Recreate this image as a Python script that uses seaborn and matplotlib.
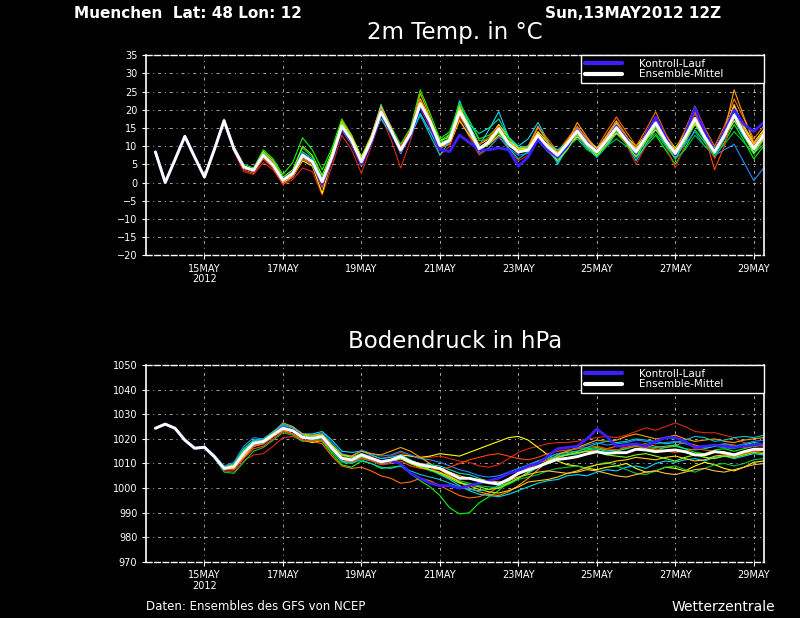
#!/usr/bin/env python3
"""GFS ensemble plume for Muenchen: 2m temperature and surface pressure."""

import matplotlib

matplotlib.use("Agg")

import matplotlib.pyplot as plt
import seaborn as sns

# forecast hours after Sun 13MAY2012 12Z, 6-hourly
HOURS = list(range(6, 379, 6))

TICK_HOURS = [36, 84, 132, 180, 228, 276, 324, 372]
TICK_LABELS = ["15MAY\n2012", "17MAY", "19MAY", "21MAY", "23MAY", "25MAY", "27MAY", "29MAY"]

# ---- 2m temperature (degC) ----
T_MEAN = [
    8.4, 0.0, 6.3, 12.7, 7.0, 1.5, 9.0, 17.0,
    9.3, 4.3, 3.4, 7.5, 4.8, 0.6, 2.5, 7.5, 5.7, 0.2, 7.0,
    15.5, 11.6, 5.7, 11.6, 19.4, 14.4, 8.9, 13.5, 21.7, 16.7, 10.2, 11.6, 19.5,
    14.8, 9.3, 11.2, 14.8, 10.7, 8.4, 8.9, 13.0, 9.8, 7.5, 10.7,
    14.2, 10.7, 8.4, 11.6, 15.1, 11.6, 8.4, 12.5, 16.4, 11.6, 8.0, 12.5, 17.6, 12.5, 8.4, 13.0, 18.5, 13.5, 9.3, 13.0,
]
T_CONTROL = [
    8.4, 0.0, 6.3, 12.7, 7.0, 1.5, 9.0, 17.0,
    9.3, 4.3, 3.3, 7.5, 4.8, 0.5, 2.5, 7.5, 5.5, -0.5, 6.5,
    15.0, 11.0, 5.0, 11.0, 19.0, 14.0, 8.5, 13.0, 21.0, 16.0, 9.0, 8.5, 13.0,
    11.0, 9.0, 9.0, 9.5, 9.0, 4.5, 7.0, 12.0, 9.0, 7.0, 10.0,
    14.5, 11.0, 8.5, 11.5, 15.5, 12.0, 8.0, 13.0, 18.0, 12.5, 7.5, 13.0, 20.5, 14.0, 8.5, 14.0, 20.0, 16.0, 14.0, 16.5,
]
T_M01 = [
    8.4, 0.1, 6.4, 12.8, 7.1, 1.6, 9.2, 17.2,
    10.0, 5.0, 4.0, 9.0, 6.5, 2.2, 5.5, 12.3, 9.0, 3.5, 9.5,
    17.5, 13.0, 7.0, 12.5, 21.0, 15.5, 10.5, 15.0, 25.5, 19.0, 12.0, 14.0, 21.5,
    17.0, 12.0, 13.0, 15.5, 12.0, 9.5, 9.0, 12.5, 10.0, 7.0, 9.5,
    13.0, 9.5, 7.0, 10.0, 13.5, 10.5, 7.0, 10.0, 13.0, 9.0, 5.0, 9.5, 14.5, 11.0, 7.0, 11.0, 16.0, 11.5, 6.5, 10.0,
]
T_M02 = [
    8.3, -0.1, 6.2, 12.6, 6.9, 1.3, 8.8, 16.6,
    8.5, 3.0, 2.2, 5.5, 3.5, -0.5, 0.8, 4.0, 3.0, -3.5, 4.5,
    13.0, 9.0, 2.5, 10.0, 18.0, 12.0, 4.0, 11.5, 20.5, 15.0, 7.5, 10.0, 17.5,
    12.5, 7.5, 9.5, 13.0, 9.0, 6.0, 7.5, 12.0, 8.5, 6.0, 9.5,
    13.5, 9.5, 7.5, 10.5, 14.0, 10.5, 5.0, 10.0, 15.0, 10.0, 4.0, 10.5, 17.0, 12.0, 6.5, 12.0, 19.0, 13.5, 8.0, 11.5,
]
T_M03 = [
    8.5, 0.1, 6.4, 12.8, 7.1, 1.7, 9.3, 17.4,
    9.8, 4.5, 3.0, 7.0, 4.0, 0.0, 1.5, 6.0, 4.5, -3.0, 6.5,
    14.5, 10.5, 4.5, 11.0, 20.5, 15.0, 9.5, 14.5, 23.0, 17.5, 11.5, 13.0, 20.5,
    15.5, 10.5, 12.0, 16.0, 12.5, 9.5, 10.0, 14.0, 11.0, 8.5, 11.5,
    15.0, 12.0, 9.5, 12.5, 16.0, 12.5, 10.0, 13.0, 17.5, 13.0, 9.5, 13.5, 19.5, 14.0, 9.0, 14.5, 21.0, 15.5, 11.0, 14.5,
]
T_M04 = [
    8.4, 0.0, 6.3, 12.7, 7.0, 1.4, 9.0, 16.9,
    9.0, 4.0, 3.0, 7.5, 5.0, 0.5, 2.0, 7.0, 5.5, 0.5, 8.0,
    16.5, 12.5, 6.0, 12.5, 21.5, 15.0, 9.0, 12.5, 19.0, 14.0, 9.0, 12.5, 22.5,
    16.0, 10.0, 14.5, 19.5, 12.5, 10.0, 12.0, 16.5, 11.5, 5.0, 9.5,
    12.5, 9.5, 7.0, 10.0, 14.0, 11.0, 6.0, 10.5, 14.5, 10.5, 6.5, 11.0, 16.0, 11.5, 7.5, 12.0, 17.0, 12.5, 8.5, 12.0,
]
T_M05 = [
    8.4, 0.0, 6.3, 12.7, 7.0, 1.5, 9.0, 17.0,
    9.5, 4.5, 3.5, 8.5, 5.5, 0.5, 2.5, 8.0, 6.0, 0.0, 7.5,
    16.0, 12.0, 6.0, 12.0, 20.0, 14.5, 9.0, 14.0, 22.5, 17.0, 10.0, 11.0, 19.0,
    14.0, 8.5, 11.0, 14.5, 10.5, 8.0, 10.0, 15.0, 12.0, 8.5, 12.0,
    15.5, 12.0, 9.5, 14.0, 18.0, 14.0, 10.0, 14.5, 19.5, 13.5, 9.0, 14.5, 21.0, 15.0, 10.0, 15.5, 23.0, 17.5, 12.0, 15.5,
]
T_M06 = [
    8.4, 0.0, 6.3, 12.7, 7.0, 1.5, 9.0, 17.0,
    9.0, 4.5, 3.5, 7.0, 4.5, 1.0, 3.0, 8.0, 6.0, 1.0, 7.5,
    15.5, 11.0, 5.5, 11.0, 18.5, 13.5, 8.0, 13.0, 21.0, 16.0, 9.5, 11.0, 18.5,
    13.5, 8.0, 9.5, 12.5, 9.5, 7.5, 8.0, 11.5, 8.5, 6.5, 9.5,
    13.0, 9.5, 8.0, 11.0, 14.0, 11.0, 8.0, 11.5, 15.0, 11.0, 7.5, 10.5, 14.0, 10.0, 7.5, 9.0, 10.5, 5.5, 0.5, 4.0,
]
T_M07 = [
    8.4, 0.0, 6.3, 12.7, 7.0, 1.5, 9.0, 17.0,
    9.5, 4.5, 3.5, 8.0, 5.0, 1.0, 3.0, 9.5, 7.0, 1.5, 7.0,
    15.0, 11.5, 6.0, 12.0, 19.5, 14.5, 9.5, 13.5, 21.0, 16.0, 11.0, 13.5, 22.0,
    17.0, 11.5, 12.0, 13.5, 10.0, 8.5, 9.0, 12.0, 9.5, 7.5, 10.0,
    12.0, 9.0, 7.5, 10.0, 12.0, 10.0, 8.0, 11.0, 13.5, 10.0, 6.5, 9.0, 13.0, 10.0, 7.5, 10.5, 14.0, 11.0, 8.0, 10.5,
]
T_M08 = [
    8.4, 0.0, 6.3, 12.7, 7.0, 1.5, 9.0, 17.0,
    9.0, 4.0, 3.5, 8.0, 5.0, 0.5, 2.0, 7.0, 5.0, -1.0, 6.5,
    17.0, 13.0, 7.0, 13.0, 21.0, 15.5, 8.5, 14.0, 24.5, 18.0, 10.5, 12.0, 19.0,
    14.0, 9.0, 11.0, 15.0, 11.5, 9.0, 10.0, 15.5, 11.0, 8.0, 11.0,
    16.5, 12.5, 9.0, 13.0, 17.0, 13.0, 8.5, 13.5, 18.0, 12.5, 7.5, 13.0, 19.5, 13.5, 8.0, 14.0, 25.5, 18.0, 11.0, 13.5,
]
T_M09 = [
    8.4, 0.0, 6.3, 12.7, 7.0, 1.5, 9.0, 17.0,
    9.0, 4.0, 3.0, 7.0, 4.5, 0.5, 2.5, 7.0, 5.5, 0.5, 6.5,
    14.5, 11.0, 6.5, 11.5, 17.5, 13.5, 9.0, 13.5, 20.5, 16.5, 11.0, 12.0, 18.0,
    16.0, 13.5, 15.0, 17.5, 12.5, 9.5, 10.0, 12.5, 10.5, 9.0, 11.0,
    13.0, 11.0, 9.5, 12.0, 15.0, 12.5, 9.0, 12.0, 15.5, 12.0, 9.0, 12.5, 17.0, 12.5, 9.5, 13.0, 18.0, 13.0, 10.0, 13.0,
]
T_M10 = [
    8.4, 0.0, 6.3, 12.7, 7.0, 1.5, 9.0, 17.0,
    9.0, 4.0, 3.5, 7.0, 4.5, 0.5, 2.0, 6.5, 5.0, 0.0, 6.5,
    15.0, 11.0, 5.5, 11.5, 19.5, 14.5, 9.5, 14.0, 22.0, 17.0, 10.0, 10.5, 17.0,
    13.0, 9.5, 10.5, 13.0, 11.5, 9.5, 9.0, 12.0, 10.5, 8.0, 10.0,
    12.5, 11.0, 9.5, 11.5, 13.5, 11.5, 9.5, 12.0, 14.5, 11.5, 9.0, 12.0, 16.0, 13.0, 9.0, 12.5, 17.0, 13.5, 10.0, 12.5,
]
T_M11 = [
    8.4, 0.0, 6.3, 12.7, 7.0, 1.5, 9.0, 17.0,
    9.0, 3.5, 2.5, 6.5, 4.0, -0.5, 1.5, 6.5, 5.0, -1.5, 6.0,
    16.0, 12.0, 6.5, 12.5, 20.0, 15.0, 10.0, 14.5, 22.5, 17.0, 9.5, 10.5, 18.0,
    14.5, 10.5, 12.5, 15.5, 11.0, 8.0, 9.5, 13.5, 10.0, 7.0, 11.0,
    15.0, 11.5, 8.0, 12.0, 16.5, 12.5, 7.5, 13.0, 17.5, 12.0, 8.0, 13.5, 19.0, 13.0, 3.5, 10.0, 20.0, 14.5, 10.5, 14.0,
]
T_M12 = [
    8.4, 0.0, 6.3, 12.7, 7.0, 1.5, 9.0, 17.0,
    9.5, 4.5, 3.5, 8.0, 5.0, 1.0, 3.0, 8.5, 6.5, 1.0, 7.5,
    16.0, 12.0, 6.0, 12.0, 20.0, 15.0, 9.5, 13.0, 18.5, 13.0, 7.5, 11.5, 19.5,
    14.5, 9.0, 11.0, 14.0, 9.5, 6.5, 8.5, 13.5, 9.0, 5.5, 10.0,
    14.0, 10.0, 7.0, 11.5, 16.0, 11.5, 7.5, 12.0, 16.0, 11.0, 7.0, 12.0, 18.0, 12.0, 8.0, 13.5, 19.5, 14.0, 9.0, 13.5,
]
T_M13 = [
    8.4, 0.0, 6.3, 12.7, 7.0, 1.5, 9.0, 17.0,
    9.5, 4.5, 3.5, 8.5, 6.0, 1.5, 3.5, 10.0, 7.5, 2.0, 8.5,
    16.5, 12.5, 7.0, 12.5, 19.5, 14.0, 8.0, 13.0, 22.0, 17.0, 11.5, 12.5, 21.0,
    15.5, 9.0, 10.5, 14.0, 10.5, 9.0, 9.5, 13.5, 9.5, 6.0, 9.0,
    13.5, 10.0, 7.5, 10.5, 14.5, 11.0, 7.0, 11.5, 15.5, 11.0, 7.0, 11.5, 16.5, 12.0, 9.0, 13.5, 19.0, 13.0, 8.0, 12.0,
]
T_M14 = [
    8.4, 0.0, 6.3, 12.7, 7.0, 1.5, 9.0, 17.0,
    9.0, 4.0, 3.0, 7.5, 4.5, 0.0, 2.0, 7.5, 5.5, -0.5, 6.5,
    15.0, 11.0, 5.0, 11.0, 19.0, 14.5, 9.0, 13.0, 21.5, 16.5, 10.5, 12.0, 20.5,
    15.0, 9.5, 11.5, 14.5, 10.5, 8.5, 9.5, 13.5, 10.0, 8.0, 11.0,
    15.0, 11.5, 9.0, 12.5, 16.5, 12.0, 9.0, 13.5, 18.0, 12.5, 8.5, 13.5, 20.0, 14.0, 9.0, 14.0, 21.5, 15.0, 10.5, 14.0,
]

# ---- surface pressure (hPa) ----
P_MEAN = [
    1024.3, 1026.0, 1024.3, 1019.5, 1016.2, 1016.6, 1012.8, 1008.0,
    1008.7, 1014.1, 1018.2, 1018.9, 1021.6, 1024.3, 1023.3, 1020.6, 1020.2, 1020.9, 1016.2,
    1012.1, 1011.4, 1013.5, 1012.1, 1010.7, 1011.4, 1012.8, 1010.7, 1009.4, 1008.7, 1008.0, 1006.0, 1004.0,
    1004.0, 1003.0, 1002.2, 1001.7, 1003.6, 1006.0, 1007.4, 1008.7, 1010.3, 1011.7, 1012.1,
    1012.8, 1013.9, 1014.8, 1014.1, 1014.4, 1014.4, 1015.8, 1015.5, 1014.8, 1015.2,
    1015.5, 1014.8, 1013.5, 1013.5, 1014.8, 1014.4, 1013.5, 1014.8, 1015.8, 1015.8,
]
P_CONTROL = [
    1024.3, 1026.0, 1024.3, 1019.5, 1016.2, 1016.6, 1012.8, 1008.0,
    1008.7, 1014.0, 1018.0, 1018.8, 1021.5, 1024.5, 1023.5, 1020.8, 1020.2, 1020.8, 1016.0,
    1012.0, 1011.5, 1013.5, 1012.0, 1010.5, 1011.0, 1010.0, 1006.0, 1004.0, 1002.0, 1001.0, 1001.0, 1000.0,
    1001.0, 1002.0, 1003.0, 1004.0, 1006.0, 1007.0, 1009.0, 1010.0, 1013.0, 1016.0, 1016.5,
    1017.0, 1020.0, 1024.0, 1021.0, 1017.0, 1017.5, 1018.0, 1017.0, 1019.0, 1020.5,
    1020.5, 1019.0, 1016.5, 1017.0, 1017.5, 1017.0, 1016.5, 1017.0, 1017.5, 1018.0,
]
P_M01 = [
    1024.3, 1026.0, 1024.4, 1019.6, 1016.3, 1016.8, 1013.2, 1008.5,
    1010.0, 1016.0, 1019.5, 1019.5, 1022.0, 1025.0, 1023.5, 1020.5, 1019.5, 1019.0, 1014.0,
    1009.5, 1008.5, 1011.0, 1010.0, 1008.0, 1008.5, 1009.0, 1006.0, 1003.0, 1000.5, 997.0, 992.0, 989.5,
    990.0, 994.0, 996.5, 999.0, 1002.5, 1006.5, 1009.5, 1011.0, 1012.5, 1014.0, 1014.5,
    1015.0, 1016.0, 1016.5, 1015.5, 1015.0, 1016.0, 1017.0, 1016.0, 1015.5, 1016.5,
    1017.0, 1016.0, 1014.5, 1014.0, 1015.5, 1016.0, 1015.0, 1016.0, 1017.0, 1017.5,
]
P_M02 = [
    1024.3, 1026.0, 1024.2, 1019.4, 1016.0, 1016.4, 1012.5, 1007.0,
    1006.5, 1011.0, 1013.5, 1014.0, 1017.0, 1020.5, 1021.0, 1019.0, 1019.5, 1020.5, 1016.5,
    1013.0, 1012.5, 1014.0, 1013.0, 1012.0, 1013.0, 1014.5, 1013.0, 1012.0, 1012.5, 1013.0, 1012.0, 1011.0,
    1010.5, 1009.0, 1008.5, 1009.5, 1012.0, 1014.5, 1016.0, 1017.0, 1018.0, 1018.5, 1018.5,
    1019.0, 1020.0, 1020.5, 1021.0, 1020.5, 1021.5, 1023.0, 1024.5, 1023.5, 1025.0,
    1026.5, 1025.0, 1023.0, 1022.5, 1022.5, 1021.5, 1020.5, 1018.5, 1017.5, 1017.0,
]
P_M03 = [
    1024.3, 1026.0, 1024.3, 1019.5, 1016.2, 1016.6, 1012.8, 1007.5,
    1007.5, 1012.5, 1017.0, 1018.0, 1021.0, 1023.5, 1022.0, 1019.5, 1018.5, 1019.5, 1015.0,
    1011.0, 1010.5, 1012.5, 1011.5, 1010.5, 1011.5, 1013.5, 1013.0, 1012.5, 1013.0, 1014.0, 1013.5, 1013.0,
    1014.5, 1016.0, 1017.5, 1019.0, 1020.5, 1021.0, 1019.5, 1016.5, 1013.5, 1011.0, 1009.5,
    1009.0, 1008.0, 1007.5, 1008.5, 1009.0, 1010.0, 1008.0, 1006.5, 1007.0, 1008.5,
    1008.0, 1007.0, 1009.0, 1010.5, 1009.5, 1008.0, 1007.0, 1008.5, 1010.5, 1011.0,
]
P_M04 = [
    1024.3, 1026.0, 1024.3, 1019.5, 1016.3, 1016.7, 1013.0, 1008.3,
    1009.0, 1015.0, 1019.0, 1019.5, 1022.5, 1025.5, 1024.5, 1022.0, 1022.0, 1023.0, 1019.5,
    1015.0, 1014.5, 1015.0, 1013.5, 1012.0, 1012.5, 1013.5, 1011.5, 1009.5, 1007.5, 1005.5, 1003.5, 1001.0,
    999.0, 997.5, 997.0, 996.5, 997.5, 999.0, 1000.5, 1002.0, 1003.0, 1003.5, 1005.0,
    1005.5, 1005.0, 1006.5, 1007.5, 1007.0, 1008.5, 1009.0, 1008.0, 1010.0, 1011.0,
    1010.5, 1011.5, 1012.0, 1011.0, 1012.5, 1013.0, 1012.0, 1013.0, 1014.0, 1013.5,
]
P_M05 = [
    1024.3, 1026.0, 1024.3, 1019.5, 1016.2, 1016.5, 1012.6, 1007.8,
    1008.0, 1013.0, 1017.0, 1018.0, 1021.0, 1023.5, 1022.0, 1019.5, 1019.0, 1018.0, 1013.0,
    1009.0, 1008.0, 1008.5, 1007.0, 1005.0, 1004.0, 1002.0, 1002.5, 1004.0, 1003.0, 1001.0, 999.0, 997.0,
    996.0, 996.5, 998.0, 1000.5, 1003.0, 1005.5, 1008.0, 1010.0, 1011.5, 1013.0, 1013.5,
    1014.0, 1015.0, 1015.5, 1016.0, 1017.0, 1016.5, 1017.5, 1018.0, 1017.0, 1016.5,
    1017.5, 1018.5, 1017.5, 1016.5, 1017.0, 1018.0, 1017.5, 1016.5, 1017.0, 1017.5,
]
P_M06 = [
    1024.3, 1026.0, 1024.5, 1019.8, 1016.5, 1017.0, 1013.5, 1009.0,
    1010.5, 1017.0, 1020.5, 1020.0, 1022.5, 1025.5, 1024.5, 1022.0, 1021.5, 1022.5, 1018.5,
    1014.0, 1013.0, 1015.5, 1014.0, 1013.0, 1013.5, 1015.0, 1013.5, 1012.0, 1011.5, 1010.5, 1009.0, 1007.5,
    1006.5, 1005.0, 1004.5, 1005.0, 1006.5, 1008.0, 1009.5, 1011.0, 1012.5, 1014.0, 1015.0,
    1016.0, 1017.5, 1018.5, 1017.5, 1018.0, 1018.5, 1019.5, 1019.0, 1018.0, 1018.5,
    1019.0, 1018.0, 1017.0, 1016.5, 1017.5, 1018.0, 1017.0, 1018.0, 1019.0, 1019.5,
]
P_M07 = [
    1024.3, 1026.0, 1024.2, 1019.3, 1016.0, 1016.2, 1012.3, 1006.5,
    1006.0, 1010.5, 1015.0, 1016.5, 1019.5, 1022.5, 1021.5, 1019.0, 1019.5, 1020.0, 1015.0,
    1010.5, 1010.0, 1012.5, 1011.5, 1010.0, 1010.5, 1012.0, 1010.0, 1008.5, 1007.0, 1006.0, 1004.5, 1003.0,
    1002.0, 1001.0, 1000.5, 1000.0, 1001.5, 1003.5, 1004.5, 1005.5, 1007.0, 1008.0, 1008.5,
    1009.0, 1008.0, 1009.5, 1010.5, 1009.0, 1007.5, 1006.0, 1005.5, 1007.0, 1008.5,
    1009.0, 1007.5, 1006.5, 1008.0, 1009.5, 1010.0, 1009.0, 1010.0, 1011.5, 1012.0,
]
P_M08 = [
    1024.3, 1026.0, 1024.3, 1019.5, 1016.3, 1016.8, 1013.0, 1008.2,
    1009.0, 1014.5, 1018.5, 1019.5, 1022.5, 1026.5, 1025.0, 1022.0, 1021.5, 1022.0, 1017.5,
    1013.5, 1013.0, 1015.0, 1014.0, 1013.5, 1015.0, 1016.5, 1015.0, 1012.5, 1010.0, 1007.5, 1005.0, 1002.5,
    1000.0, 998.5, 997.5, 997.0, 998.5, 1001.0, 1004.0, 1007.5, 1011.0, 1013.5, 1015.0,
    1016.5, 1018.0, 1019.5, 1019.0, 1019.5, 1021.0, 1022.0, 1021.0, 1020.0, 1020.5,
    1021.5, 1020.0, 1019.0, 1019.5, 1020.0, 1019.0, 1018.5, 1019.5, 1020.0, 1020.5,
]
P_M09 = [
    1024.3, 1026.0, 1024.3, 1019.5, 1016.2, 1016.6, 1012.8, 1008.0,
    1008.5, 1014.0, 1018.5, 1019.0, 1021.5, 1024.0, 1023.0, 1020.5, 1020.5, 1021.5, 1017.0,
    1012.5, 1012.0, 1014.0, 1012.5, 1011.0, 1011.5, 1013.0, 1011.0, 1010.0, 1009.5, 1009.0, 1007.5, 1006.0,
    1005.5, 1004.0, 1002.5, 1001.0, 1002.0, 1004.0, 1006.0, 1008.5, 1010.5, 1012.5, 1013.5,
    1014.0, 1015.5, 1016.0, 1015.0, 1015.5, 1016.0, 1017.5, 1017.0, 1016.5, 1017.0,
    1017.5, 1016.0, 1015.5, 1016.0, 1017.0, 1016.5, 1016.0, 1017.5, 1018.5, 1018.0,
]
P_M10 = [
    1024.3, 1026.0, 1024.3, 1019.5, 1016.1, 1016.5, 1012.7, 1007.8,
    1008.0, 1013.0, 1017.5, 1018.5, 1021.0, 1024.0, 1023.0, 1021.0, 1021.0, 1021.5, 1017.0,
    1012.5, 1011.5, 1013.0, 1011.5, 1010.0, 1010.5, 1012.0, 1010.0, 1008.5, 1007.5, 1006.5, 1004.5, 1002.5,
    1001.0, 999.5, 998.5, 998.0, 999.0, 1000.5, 1002.5, 1003.0, 1003.5, 1004.5, 1006.0,
    1007.0, 1008.5, 1009.5, 1010.0, 1011.0, 1011.5, 1012.5, 1012.0, 1011.5, 1012.5,
    1013.0, 1012.0, 1011.0, 1011.5, 1013.0, 1013.5, 1013.0, 1014.0, 1015.0, 1015.5,
]
P_M11 = [
    1024.3, 1026.0, 1024.3, 1019.4, 1016.1, 1016.5, 1012.6, 1007.6,
    1007.5, 1012.0, 1016.0, 1017.0, 1020.0, 1023.0, 1022.0, 1019.5, 1019.0, 1019.5, 1015.5,
    1011.5, 1010.5, 1012.0, 1011.0, 1009.5, 1010.0, 1011.0, 1009.0, 1008.0, 1007.5, 1007.5, 1008.5, 1010.0,
    1011.5, 1012.5, 1013.5, 1014.0, 1013.0, 1012.0, 1011.5, 1012.5, 1014.0, 1015.0, 1015.5,
    1016.0, 1016.5, 1017.0, 1016.0, 1015.5, 1016.5, 1017.0, 1016.5, 1016.0, 1015.0,
    1014.5, 1015.0, 1016.0, 1015.5, 1015.0, 1014.0, 1013.0, 1014.0, 1015.0, 1014.5,
]
P_M12 = [
    1024.3, 1026.0, 1024.4, 1019.6, 1016.3, 1016.7, 1013.0, 1008.2,
    1009.5, 1015.5, 1019.5, 1020.0, 1023.0, 1026.0, 1024.5, 1021.5, 1021.0, 1021.0, 1016.0,
    1011.0, 1010.0, 1011.5, 1010.0, 1008.5, 1008.0, 1009.0, 1007.0, 1005.5, 1004.5, 1003.5, 1002.0, 1000.5,
    999.5, 999.0, 999.5, 1001.0, 1003.5, 1006.0, 1008.5, 1010.5, 1012.0, 1013.0, 1014.0,
    1015.0, 1016.5, 1018.0, 1019.0, 1018.5, 1019.0, 1020.0, 1019.5, 1019.0, 1018.0,
    1018.5, 1019.5, 1021.0, 1020.5, 1019.0, 1019.5, 1020.5, 1021.0, 1020.5, 1021.5,
]
P_M13 = [
    1024.3, 1026.0, 1024.3, 1019.5, 1016.2, 1016.6, 1012.9, 1008.4,
    1009.5, 1015.0, 1018.5, 1019.0, 1022.0, 1024.5, 1023.5, 1021.5, 1021.0, 1021.5, 1017.5,
    1013.5, 1012.5, 1014.0, 1012.0, 1010.5, 1011.0, 1012.0, 1010.0, 1008.5, 1007.5, 1006.0, 1004.0, 1002.0,
    1001.5, 1000.5, 999.5, 1000.0, 1002.0, 1004.0, 1006.5, 1009.0, 1011.0, 1012.5, 1013.5,
    1014.5, 1015.0, 1014.5, 1013.5, 1013.0, 1012.5, 1013.5, 1014.0, 1013.0, 1012.0,
    1011.0, 1012.5, 1013.5, 1012.5, 1012.0, 1013.0, 1012.5, 1013.5, 1014.5, 1014.0,
]
P_M14 = [
    1024.3, 1026.0, 1024.3, 1019.5, 1016.2, 1016.6, 1012.8, 1008.0,
    1008.5, 1013.5, 1018.0, 1018.5, 1021.5, 1024.0, 1023.0, 1020.5, 1020.0, 1021.0, 1016.5,
    1012.5, 1011.5, 1013.0, 1012.0, 1010.5, 1011.0, 1012.5, 1011.0, 1010.0, 1009.0, 1008.0, 1006.5, 1005.0,
    1004.0, 1003.5, 1003.0, 1002.5, 1003.0, 1004.5, 1005.5, 1006.5, 1007.0, 1006.5, 1006.0,
    1006.5, 1007.5, 1007.0, 1006.0, 1005.0, 1004.5, 1005.5, 1006.5, 1007.0, 1006.0,
    1005.5, 1006.5, 1007.5, 1008.0, 1007.0, 1006.5, 1007.5, 1008.5, 1009.5, 1010.0,
]

MEMBER_COLORS = [
    "#00ff00", "#dc2814", "#ffff00", "#00dcff", "#ff6e00",
    "#1e8cff", "#00c83c", "#ffa000", "#00e6aa", "#ffd200",
    "#ff4600", "#00c8c8", "#8cff00", "#ffbe46",
]
CONTROL_COLOR = "#3c1eff"
MEAN_COLOR = "#ffffff"
FONT = ["DejaVu Sans"]


def style_axes(ax, ylim, yticks):
    ax.set_facecolor("black")
    ax.set_xlim(0, 378)
    ax.set_ylim(*ylim)
    ax.set_yticks(yticks)
    ax.set_xticks(TICK_HOURS)
    ax.set_xticklabels(TICK_LABELS, linespacing=1.1)
    ax.set_axisbelow(True)
    ax.grid(True, color="#a8a8a8", linestyle=(0, (3, 4, 1, 4)), linewidth=0.7)
    ax.tick_params(colors="white", labelcolor="white", labelsize=7, length=3, width=0.8, pad=3)
    for side in ("left", "right"):
        ax.spines[side].set_color("white")
        ax.spines[side].set_linewidth(1.2)
    for side in ("top", "bottom"):
        ax.spines[side].set_color("white")
        ax.spines[side].set_linewidth(1.0)
        ax.spines[side].set_linestyle((0, (4, 2)))
    ax.set_xlabel("")
    ax.set_ylabel("")


def draw_panel(ax, members, control, mean):
    for values, color in zip(members, MEMBER_COLORS):
        assert len(values) == len(HOURS)
        sns.lineplot(x=HOURS, y=values, color=color, linewidth=0.8,
                     estimator=None, legend=False, ax=ax)
    sns.lineplot(x=HOURS, y=control, color=CONTROL_COLOR, linewidth=2.0,
                 estimator=None, label="Kontroll-Lauf", ax=ax)
    sns.lineplot(x=HOURS, y=mean, color=MEAN_COLOR, linewidth=2.1,
                 estimator=None, label="Ensemble-Mittel", ax=ax)

    leg = ax.legend(loc="upper left", bbox_to_anchor=(0.7046, 0.5, 0.2954, 0.5),
                    mode="expand", borderaxespad=0, fontsize=7.5, frameon=True,
                    fancybox=False, borderpad=0.35, labelspacing=0.05,
                    handlelength=3.6, handletextpad=1.6)
    frame = leg.get_frame()
    frame.set_facecolor("black")
    frame.set_edgecolor("white")
    frame.set_linewidth(1.0)
    frame.set_alpha(1.0)
    for text in leg.get_texts():
        text.set_color("white")
    for line in leg.get_lines():
        line.set_linewidth(3.0)


def main():
    sns.set_theme(style="ticks")
    plt.rcParams["font.family"] = FONT

    fig = plt.figure(figsize=(8, 6.18), dpi=100, facecolor="black")
    ax_t = fig.add_axes([0.182, 0.587, 0.7725, 0.3236])
    ax_p = fig.add_axes([0.182, 0.0906, 0.7725, 0.3188])

    temp_members = [T_M01, T_M02, T_M03, T_M04, T_M05, T_M06, T_M07,
                    T_M08, T_M09, T_M10, T_M11, T_M12, T_M13, T_M14]
    pres_members = [P_M01, P_M02, P_M03, P_M04, P_M05, P_M06, P_M07,
                    P_M08, P_M09, P_M10, P_M11, P_M12, P_M13, P_M14]

    draw_panel(ax_t, temp_members, T_CONTROL, T_MEAN)
    style_axes(ax_t, (-20, 35), list(range(-20, 36, 5)))

    draw_panel(ax_p, pres_members, P_CONTROL, P_MEAN)
    style_axes(ax_p, (970, 1050), list(range(970, 1051, 10)))

    fig.text(74 / 800, 1 - 13 / 618, "Muenchen  Lat: 48 Lon: 12", color="white",
             fontsize=11, fontweight="bold", va="center", ha="left")
    fig.text(545 / 800, 1 - 13 / 618, "Sun,13MAY2012 12Z", color="white",
             fontsize=11, fontweight="bold", va="center", ha="left")
    fig.text(455 / 800, 1 - 33 / 618, "2m Temp. in °C", color="white",
             fontsize=16.5, va="center", ha="center")
    fig.text(455 / 800, 1 - 342 / 618, "Bodendruck in hPa", color="white",
             fontsize=16.5, va="center", ha="center")
    fig.text(146 / 800, 1 - 607 / 618, "Daten: Ensembles des GFS von NCEP", color="white",
             fontsize=8.5, va="center", ha="left")
    fig.text(775 / 800, 1 - 607 / 618, "Wetterzentrale", color="white",
             fontsize=10, va="center", ha="right")

    fig.savefig("out.png", dpi=100, facecolor="black")
    plt.close(fig)


if __name__ == "__main__":
    main()
